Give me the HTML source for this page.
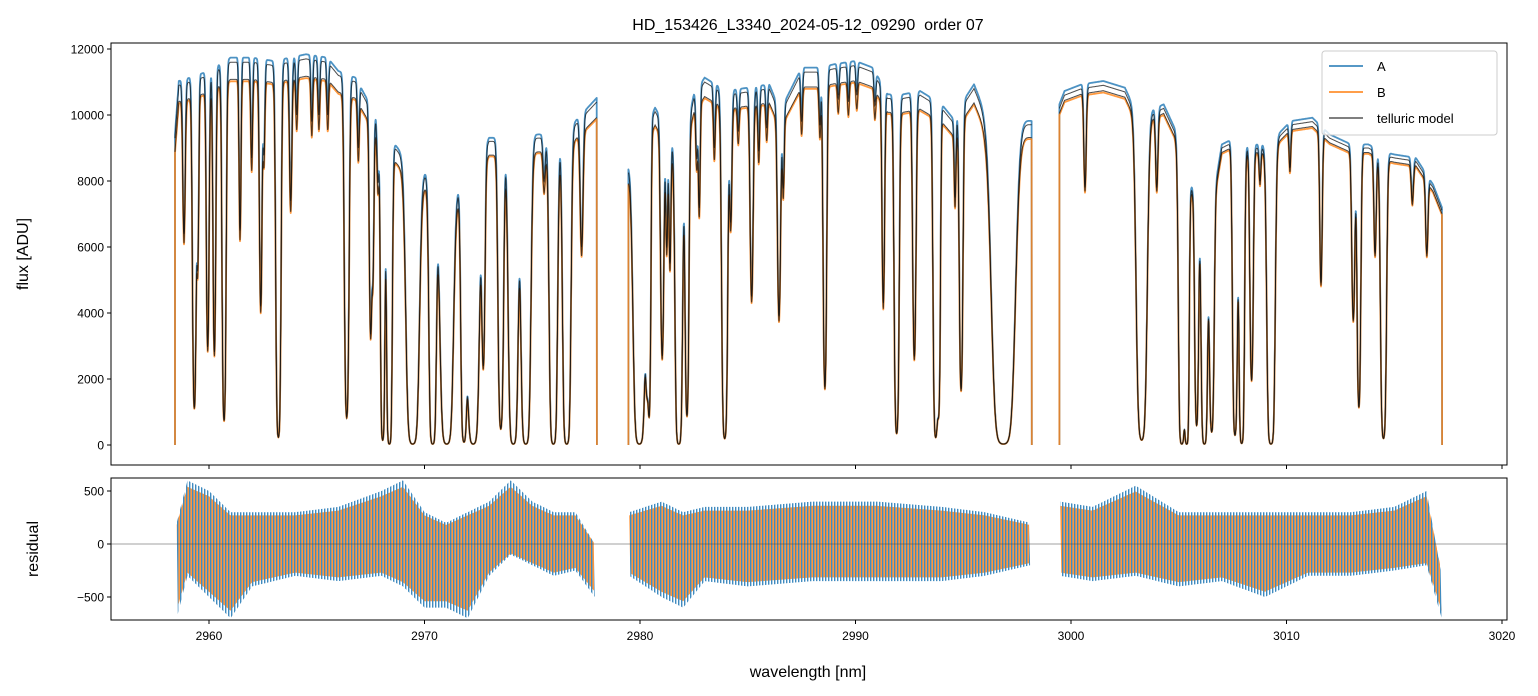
<!DOCTYPE html>
<html><head><meta charset="utf-8">
<style>
html,body{margin:0;padding:0;background:#fff;}
svg{display:block;font-family:"Liberation Sans","DejaVu Sans",sans-serif;}
</style></head>
<body>
<svg id="chart" width="1538" height="696" viewBox="0 0 1538 696">
  <defs>
    <pattern id="stripeA" width="3" height="10" patternUnits="userSpaceOnUse">
      <rect x="0" y="0" width="1.4" height="10" fill="#1f77b4" fill-opacity="0.85"/>
    </pattern>
    <pattern id="stripeB" width="3" height="10" patternUnits="userSpaceOnUse">
      <rect x="1.5" y="0" width="1.4" height="10" fill="#ff7f0e" fill-opacity="0.9"/>
    </pattern>
  </defs>
  <text x="808" y="30" font-size="16" text-anchor="middle" style="white-space:pre">HD_153426_L3340_2024-05-12_09290  order 07</text>
  <g id="topPanel"></g>
  <g id="botPanel"></g>
  <text transform="translate(28,254) rotate(-90)" font-size="16" text-anchor="middle">flux [ADU]</text>
  <text transform="translate(38,549) rotate(-90)" font-size="16" text-anchor="middle">residual</text>
  <text x="808" y="677" font-size="16" text-anchor="middle">wavelength [nm]</text>
  <g>
    <rect x="1322" y="51" width="175" height="84" rx="3" fill="#fff" fill-opacity="0.8" stroke="#ccc"/>
    <line x1="1329" y1="66" x2="1363" y2="66" stroke="#1f77b4" stroke-width="1.5"/>
    <text x="1377" y="71" font-size="13">A</text>
    <line x1="1329" y1="92" x2="1363" y2="92" stroke="#ff7f0e" stroke-width="1.5"/>
    <text x="1377" y="97" font-size="13">B</text>
    <line x1="1329" y1="118" x2="1363" y2="118" stroke="#555" stroke-width="1.5"/>
    <text x="1377" y="123" font-size="13">telluric model</text>
  </g>
</svg>
<script>
// ---- data ----
const segStart = [2958.42, 2979.46, 2999.46];
const segEnd   = [2978.00, 2998.18, 3017.22];
const scaleA = [1.0, 1.0, 1.0];
const scaleB = [0.955, 0.96, 0.985];
const contWl = [2958.42,2958.6,2959.1,2960.0,2961.0,2962.0,2963.0,2964.5,2965.5,2966.0,2966.8,2967.3,2968.0,2969.0,2970.0,2971.0,2972.0,2973.0,2974.0,2975.0,2976.0,2977.0,2978.0,
  2979.46,2980.7,2981.5,2982.0,2982.5,2983.0,2984.0,2985.0,2986.0,2986.5,2987.5,2988.3,2989.0,2990.0,2990.8,2991.5,2992.2,2993.0,2994.0,2994.5,2995.5,2996.0,2997.0,2998.2,
  2999.46,2999.7,3000.5,3001.5,3002.5,3003.0,3003.6,3004.3,3004.8,3005.3,3005.9,3006.5,3007.0,3007.6,3008.0,3008.5,3009.0,3009.6,3010.2,3011.2,3012.0,3013.0,3013.8,3014.4,3015.0,3016.0,3016.8,3017.22];
const contFlux = [9300,10900,11000,11200,11600,11600,11500,11700,11600,11200,11000,10400,9500,8700,8200,7500,8000,9200,9200,9300,9300,9700,10400,
  8400,10100,9200,9000,10500,11000,10600,10700,10800,10000,11300,11300,11400,11500,11300,10500,10500,10600,10200,9800,10800,10000,9800,9700,
  10200,10600,10800,10900,10700,10000,10000,10200,9500,8000,7500,7000,9000,9200,9000,9000,9000,9300,9700,9800,9300,9000,9000,8800,8700,8600,7800,7100];
const lineWl = [2958.84,2959.32,2959.48,2959.94,2960.25,2960.70,2961.44,2961.98,2962.40,2962.55,2963.22,2963.79,2964.07,2964.77,2965.10,2965.51,2966.39,2966.93,2967.50,2967.61,2967.84,2968.06,2968.37,2969.45,2970.38,2971.03,2971.83,2972.26,2972.73,2973.54,2974.12,2974.70,2975.55,2975.98,2976.60,2977.29,
  2979.97,2980.32,2980.43,2981.03,2981.24,2981.39,2981.80,2982.18,2982.63,2982.75,2983.45,2983.93,2984.21,2984.56,2985.18,2985.51,2985.88,2986.45,2986.65,2987.50,2988.35,2988.58,2989.20,2989.67,2990.06,2990.90,2991.29,2991.91,2992.73,2993.72,2993.87,2994.62,2994.90,2996.86,
  3000.65,3003.28,3003.98,3005.14,3005.37,3005.83,3006.19,3006.53,3007.61,3007.92,3008.38,3008.77,3009.28,3010.16,3011.60,3013.10,3013.36,3014.11,3014.50,3015.84,3016.51];
const lineMin = [6400,1150,5700,2970,2820,760,6500,8700,4200,8900,240,7400,10000,9800,10000,10000,850,9000,3400,5500,8000,150,30,30,30,30,100,30,2500,500,30,30,8000,30,30,6000,
  30,2600,1060,2700,6000,5500,30,900,8700,7200,9000,200,6800,9500,4500,8900,9600,3900,7800,9800,9700,1760,10500,10400,10600,10300,4300,360,2680,240,1400,7500,1700,30,
  7800,150,7800,30,30,600,30,400,300,50,1970,8000,30,8400,4900,3800,1150,5800,200,7400,5800];
const lineSig = [0.05,0.06,0.04,0.05,0.05,0.06,0.04,0.04,0.05,0.04,0.07,0.05,0.04,0.04,0.04,0.04,0.07,0.04,0.05,0.04,0.04,0.06,0.07,0.16,0.09,0.16,0.08,0.15,0.06,0.08,0.12,0.12,0.05,0.1,0.1,0.06,
  0.15,0.05,0.05,0.06,0.04,0.04,0.09,0.06,0.04,0.04,0.04,0.08,0.05,0.04,0.06,0.04,0.04,0.06,0.04,0.04,0.04,0.06,0.04,0.04,0.04,0.04,0.05,0.07,0.06,0.07,0.05,0.04,0.06,0.28,
  0.05,0.14,0.05,0.08,0.06,0.06,0.08,0.07,0.07,0.07,0.06,0.04,0.1,0.04,0.05,0.06,0.06,0.05,0.08,0.05,0.05];
const resWl = [[2958.5,2959.0,2960,2961,2962,2964,2966,2968,2969,2970,2971,2972,2973,2974,2975,2976,2977,2977.9],
  [2979.5,2981,2982,2983,2985,2988,2991,2994,2996,2998.1],
  [2999.5,3001,3003,3005,3007,3009,3011,3013,3015,3016.5,3017.2]];
const resHi = [[200,600,500,300,300,300,350,500,600,300,200,300,400,600,400,300,300,0],
  [300,400,300,350,350,400,400,350,300,200],
  [400,350,550,300,300,300,300,300,350,500,-300]];
const resLo = [[-700,-300,-500,-700,-400,-300,-350,-300,-400,-600,-600,-700,-300,-100,-200,-300,-250,-500],
  [-300,-500,-600,-350,-400,-350,-350,-350,-300,-200],
  [-300,-350,-300,-400,-350,-500,-300,-300,-250,-200,-700]];
const xTicks = [2960,2970,2980,2990,3000,3010,3020];
const yTicksTop = [0,2000,4000,6000,8000,10000,12000];
const yTicksBot = [-500,0,500];

// ---- axes ----
const L=111,R=1507, T1=43,B1=465, T2=478,B2=620;
const xS = w => 209 + (w-2960)*21.55;
const yT = f => 445 - f*0.033;
const yB = r => 544 - r*0.106;
const NS='http://www.w3.org/2000/svg';
function mk(tag, attrs, parent){const e=document.createElementNS(NS,tag);for(const k in attrs)e.setAttribute(k,attrs[k]);parent.appendChild(e);return e;}
const topG=document.getElementById('topPanel'), botG=document.getElementById('botPanel'), svgEl=document.getElementById('chart');
const defs=svgEl.querySelector('defs');
const c1=mk('clipPath',{id:'c1'},defs); mk('rect',{x:L,y:T1,width:R-L,height:B1-T1},c1);
const c2=mk('clipPath',{id:'c2'},defs); mk('rect',{x:L,y:T2,width:R-L,height:B2-T2},c2);

function interp(xs,ys,v){if(v<=xs[0])return ys[0];for(let i=1;i<xs.length;i++){if(v<=xs[i]){const t=(v-xs[i-1])/(xs[i]-xs[i-1]);return ys[i-1]+t*(ys[i]-ys[i-1]);}}return ys[ys.length-1];}
const lineTau = lineWl.map((w,i)=>Math.max(Math.log(interp(contWl,contFlux,w)/Math.max(lineMin[i],20)),0));
function model(w){
  const c=interp(contWl,contFlux,w); let tau=0;
  for(let i=0;i<lineWl.length;i++){const d=(w-lineWl[i])/lineSig[i]; if(d>6||d<-6)continue; tau+=lineTau[i]*Math.exp(-0.5*d*d);}
  return c*Math.exp(-tau);
}
const segSamples=[];
for(let s=0;s<3;s++){const arr=[];for(let w=segStart[s]; w<=segEnd[s]; w+=0.01){arr.push([w,model(w)]);}segSamples.push(arr);}
function pathFor(s,scale,edges){
  let d='';
  if(edges) d='M'+xS(segStart[s]).toFixed(1)+','+yT(0).toFixed(1);
  segSamples[s].forEach(p=>{d+=(d?'L':'M')+xS(p[0]).toFixed(1)+','+yT(p[1]*scale).toFixed(1);});
  if(edges) d+='L'+xS(segEnd[s]).toFixed(1)+','+yT(0).toFixed(1);
  return d;
}
const gT=mk('g',{'clip-path':'url(#c1)'},topG);
for(let s=0;s<3;s++){
  const pa=mk('path',{d:pathFor(s,scaleA[s]*1.012,true),fill:'none',stroke:'#1f77b4','stroke-width':1.8,'stroke-opacity':0.8,'stroke-linejoin':'round'},gT);
  
  
  const pb=mk('path',{d:pathFor(s,scaleB[s]*0.995,true),fill:'none',stroke:'#ff7f0e','stroke-width':1.8,'stroke-opacity':0.8,'stroke-linejoin':'round'},gT);
  
  
  const ma=mk('path',{d:pathFor(s,scaleA[s],false),fill:'none',stroke:'#111','stroke-width':1,'stroke-opacity':0.75},gT);
  
  
  const mb=mk('path',{d:pathFor(s,scaleB[s],false),fill:'none',stroke:'#111','stroke-width':1,'stroke-opacity':0.75},gT);
  
  
}
// residual bands
const gB=mk('g',{'clip-path':'url(#c2)'},botG);
function band(s,f){
  let d='';const n=resWl[s].length;
  for(let w=resWl[s][0]; w<=resWl[s][n-1]; w+=0.05){d+=(d?'L':'M')+xS(w).toFixed(1)+','+yB(interp(resWl[s],resHi[s],w)*f).toFixed(1);}
  for(let w=resWl[s][n-1]; w>=resWl[s][0]; w-=0.05){d+='L'+xS(w).toFixed(1)+','+yB(interp(resWl[s],resLo[s],w)*f).toFixed(1);}
  return d+'Z';
}
for(let s=0;s<3;s++){
  const ra=mk('path',{d:band(s,1.0),fill:'url(#stripeA)'},gB);
  
  
  const rb=mk('path',{d:band(s,0.9),fill:'url(#stripeB)'},gB);
  
  
}
mk('line',{x1:L,x2:R,y1:yB(0),y2:yB(0),stroke:'#444','stroke-width':0.6},botG);
// frames and ticks
mk('rect',{x:L,y:T1,width:R-L,height:B1-T1,fill:'none',stroke:'#000','stroke-width':1},topG);
mk('rect',{x:L,y:T2,width:R-L,height:B2-T2,fill:'none',stroke:'#000','stroke-width':1},botG);
xTicks.forEach(t=>{
  mk('line',{x1:xS(t),x2:xS(t),y1:B1,y2:B1+4,stroke:'#000'},topG);
  mk('line',{x1:xS(t),x2:xS(t),y1:B2,y2:B2+4,stroke:'#000'},botG);
  const tx=mk('text',{x:xS(t),y:B2+20,'font-size':12,'text-anchor':'middle'},botG);
  tx.textContent=t;
  
  
});
yTicksTop.forEach(t=>{
  mk('line',{x1:L-4,x2:L,y1:yT(t),y2:yT(t),stroke:'#000'},topG);
  const tx=mk('text',{x:L-7,y:yT(t)+4.5,'font-size':12,'text-anchor':'end'},topG);
  tx.textContent=t;
  
  
});
yTicksBot.forEach(t=>{
  mk('line',{x1:L-4,x2:L,y1:yB(t),y2:yB(t),stroke:'#000'},botG);
  const tx=mk('text',{x:L-7,y:yB(t)+4.5,'font-size':12,'text-anchor':'end'},botG);
  tx.textContent=(t<0?'\u2212'+(-t):t);
  
  
});
</script>
</body></html>
